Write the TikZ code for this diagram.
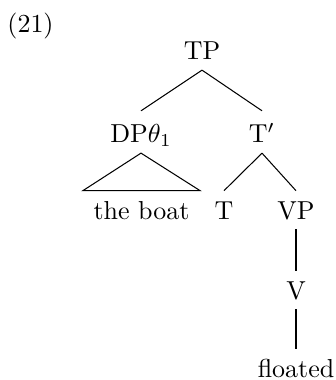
\documentclass[tikz,border=0pt]{standalone}
\begin{document}
\begin{tikzpicture}[x=0.385pt,y=-0.385pt,
  lbl/.style={anchor=base,inner xsep=0pt,inner ysep=3.7pt,text height=7pt,text depth=0pt},
  lblhi/.style={lbl,text height=8.5pt},
  edge/.style={line width=0.4pt}]
\useasboundingbox (0,0) rectangle (336,380);
\node[anchor=base,inner sep=0pt] (ex) at (30.5,33) {(21)};
\node[lbl] (tp) at (202,60) {TP};
\node[lblhi] (dp) at (141,143) {DP$\theta_1$};
\node[lblhi] (tbar) at (262,143) {T$'$};
\node[lbl,inner xsep=3.9pt] (boat) at (141.5,219) {the boat};
\node[lbl] (t) at (224,219) {T};
\node[lbl] (vp) at (296,219) {VP};
\node[lbl] (v) at (296,299) {V};
\node[lbl] (fl) at (296,377.5) {floated};
\draw[edge] (tp.south) -- (dp.north);
\draw[edge] (tp.south) -- (tbar.north);
\draw[edge] (dp.south) -- (boat.north west) -- (boat.north east) -- cycle;
\draw[edge] (tbar.south) -- (t.north);
\draw[edge] (tbar.south) -- (vp.north);
\draw[edge] (vp.south) -- (v.north);
\draw[edge] (v.south) -- (fl.north);
\end{tikzpicture}
\end{document}
